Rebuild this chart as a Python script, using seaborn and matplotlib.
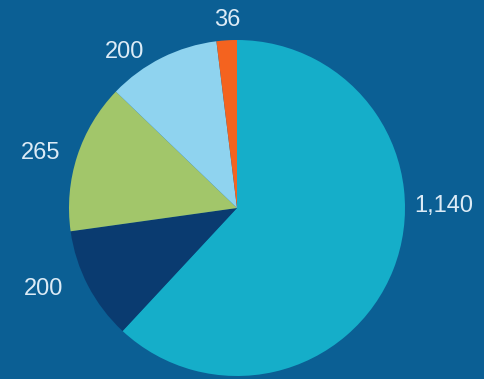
import matplotlib
matplotlib.use("Agg")
import matplotlib.pyplot as plt
import seaborn as sns

# Segment values, clockwise from 12 o'clock
values = [1140, 200, 265, 200, 36]
labels = ["1,140", "200", "265", "200", "36"]
colors = ["#15aec9", "#0a3b70", "#a2c66a", "#8fd3ef", "#f4631f"]

# Label anchor points in pie units (radius = 1)
label_x = [1.23, -1.15, -1.17, -0.67, -0.06]
label_y = [0.01, -0.48, 0.33, 0.93, 1.12]

bg = "#0b5f94"
sns.set_theme(style="white", rc={"figure.facecolor": bg, "axes.facecolor": bg})
plt.rcParams["font.family"] = ["Liberation Sans", "DejaVu Sans"]

W, H, DPI = 484, 379, 100
fig = plt.figure(figsize=(W / DPI, H / DPI), dpi=DPI)
ax = fig.add_axes([0, 0, 1, 1])
ax.set_facecolor(bg)

ax.pie(values, colors=sns.color_palette(colors), startangle=90,
       counterclock=False, radius=1.0,
       wedgeprops={"linewidth": 0})

for x, y, t in zip(label_x, label_y, labels):
    ax.text(x, y, t, ha="center", va="center", fontsize=17,
            color="#dcebf6")

# Pie centre sits at (237, 208) px with a 168 px radius
r_px, cx, cy = 168.0, 237.0, 208.0
ax.set_xlim(-cx / r_px, (W - cx) / r_px)
ax.set_ylim(-(H - cy) / r_px, cy / r_px)
ax.set_aspect("equal", adjustable="box")
ax.axis("off")

fig.savefig("out.png", dpi=DPI, facecolor=bg)
